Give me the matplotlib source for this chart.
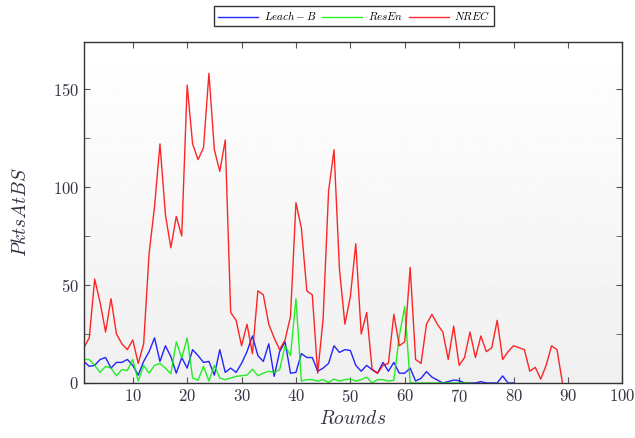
import numpy as np
import matplotlib
matplotlib.use('Agg')
import matplotlib.pyplot as plt

plt.rcParams['mathtext.fontset'] = 'cm'
plt.rcParams['font.family'] = 'serif'
plt.rcParams['font.serif'] = ['cmr10', 'DejaVu Serif']
plt.rcParams['axes.formatter.use_mathtext'] = True

# values, one per round
nrec = [18, 23, 53, 41, 26, 43, 25, 20, 17, 22, 10, 20, 66, 90, 122, 86, 69, 85, 75, 152,
        122, 114, 120, 158, 119, 108, 124, 36, 32, 19, 30, 15, 47, 45, 30, 23, 17, 22, 34, 92,
        79, 47, 45, 5, 33, 98, 119, 58, 30, 44, 71, 25, 36, 7, 5, 9, 10, 35, 19, 21,
        59, 12, 10, 30, 35, 30, 26, 12, 29, 9, 13, 26, 13, 24, 16, 18, 32, 12, 16, 19,
        18, 17, 6, 8, 2, 9, 19, 17, 0]
leach = [11, 8.5, 9, 12, 13, 7.6, 10.5, 10.5, 12, 9, 4, 11, 16, 23, 11, 19, 13.5, 5, 13, 7.6,
         17, 14, 10.5, 11, 4, 17, 5.4, 7.6, 5.4, 10, 16, 24, 14, 11, 20, 3.4, 16, 21, 5, 5.4,
         15, 13, 13, 6, 7.6, 10, 19, 15.6, 17, 16.6, 9, 6, 9, 6.8, 5, 10.5, 6, 10.5, 5, 5,
         7.6, 1, 2.4, 5.8, 3, 1.5, 0, 0.7, 1.5, 1.2, 0, 0, 0, 0.7, 0, 0, 0, 3.6, 0, 0]
resen = [12, 12, 9, 5.4, 8.5, 7.6, 3.7, 6.8, 6.4, 12, 1, 9, 5, 9, 10, 7.6, 4.7, 21, 12.7, 23,
         2.5, 1.4, 8.5, 1, 9, 2.5, 1.7, 2.5, 3.4, 3.7, 4, 7, 3.7, 5, 6, 5.4, 6.8, 19, 14, 43,
         1, 1.7, 1.7, 1, 1.7, 0.3, 2, 1, 1.7, 2, 1, 1.7, 3, 0, 1.7, 1.7, 1, 1.4, 24, 39,
         0, 0, 0, 0, 0, 0, 0, 0, 0, 0, 0, 0]

rounds_nrec = np.arange(1, len(nrec) + 1)
rounds_leach = np.arange(1, len(leach) + 1)
rounds_resen = np.arange(1, len(resen) + 1)

fig = plt.figure(figsize=(6.35, 4.38), dpi=100)
ax = fig.add_axes([0.132, 0.1256, 0.848, 0.7784])

# grey-to-white background gradient
grad = np.linspace(0.94, 1.0, 256).reshape(-1, 1)
ax.imshow(grad, cmap='gray', vmin=0, vmax=1, aspect='auto',
          extent=[1, 100, 174, 0], zorder=0)

ax.plot(rounds_leach, leach, color='#0000ff', lw=1.0, alpha=0.85, label=r'$Leach-B$', zorder=2)
ax.plot(rounds_resen, resen, color='#00ee00', lw=1.0, alpha=0.85, label=r'$ResEn$', zorder=2)
ax.plot(rounds_nrec, nrec, color='#ff0000', lw=1.0, alpha=0.85, label=r'$NREC$', zorder=2)

ax.set_xlim(1, 100)
ax.set_ylim(0, 174)
ax.set_xticks([10, 20, 30, 40, 50, 60, 70, 80, 90, 100])
ax.set_yticks([0, 50, 100, 150])
ax.set_yticks([25, 75, 125], minor=True)
ax.tick_params(which='both', direction='in', top=True, right=True, length=4,
               color='#555555', labelsize=12, labelcolor='#333344')
ax.tick_params(which='minor', length=4)
for sp in ax.spines.values():
    sp.set_color('#333333')
    sp.set_linewidth(1.0)

ax.set_xlabel(r'$Rounds$', fontsize=14, color='#333344')
ax.set_ylabel(r'$PktsAtBS$', fontsize=14, color='#333344', labelpad=16)

leg = fig.legend(loc='upper center', bbox_to_anchor=(0.558, 1.0), ncol=3,
                 fontsize=8, frameon=True, fancybox=False, handlelength=3.6,
                 columnspacing=0.5, handletextpad=0.5, borderpad=0.35)
leg.get_frame().set_edgecolor('black')
leg.get_frame().set_linewidth(1.0)

fig.savefig('out.png', dpi=100)
